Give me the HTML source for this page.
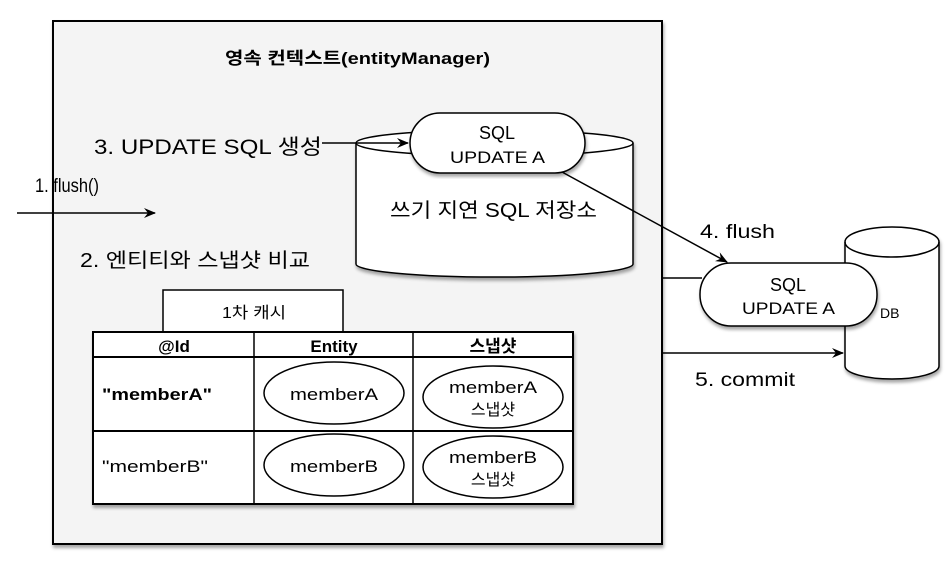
<!DOCTYPE html>
<html><head><meta charset="utf-8"><style>
body{margin:0;background:#fff;width:952px;height:572px;overflow:hidden}
text{font-family:"Liberation Sans","Noto Sans CJK KR",sans-serif;fill:#000}
</style></head><body>
<svg width="952" height="572" viewBox="0 0 952 572" xmlns="http://www.w3.org/2000/svg">
<defs>
<marker id="a" markerWidth="12" markerHeight="10" refX="11" refY="5" orient="auto" markerUnits="userSpaceOnUse"><path d="M0,0 L12,5 L0,10 L4,5 Z" fill="#000"/></marker>
<filter id="s" x="-5%" y="-5%" width="112%" height="115%"><feDropShadow dx="1" dy="3" stdDeviation="1.5" flood-opacity="0.35"/></filter>
</defs>
<rect x="53" y="21" width="609" height="523" fill="#f4f4f4" stroke="#000" stroke-width="2" filter="url(#s)"/>
<text x="225" y="64" font-size="17" font-weight="bold" textLength="265" lengthAdjust="spacingAndGlyphs">영속 컨텍스트(entityManager)</text>
<g filter="url(#s)">
<path d="M356,143 L356,264 A138,13 0 0 0 633,264 L633,143 A138,13 0 0 0 356,143 Z" fill="#fff" stroke="#000" stroke-width="1.5"/>
<path d="M356,143 A138,13 0 0 0 633,143" fill="none" stroke="#000" stroke-width="1.5"/>
</g>
<rect x="410" y="113" width="175" height="60" rx="30" fill="#fff" stroke="#000" stroke-width="1.5" filter="url(#s)"/>
<text x="497" y="139" font-size="18" text-anchor="middle">SQL</text>
<text x="450" y="163" font-size="17" textLength="95" lengthAdjust="spacingAndGlyphs">UPDATE A</text>
<text x="390" y="217" font-size="20" textLength="207" lengthAdjust="spacingAndGlyphs">쓰기 지연 SQL 저장소</text>
<text x="94" y="154" font-size="21" textLength="228" lengthAdjust="spacingAndGlyphs">3. UPDATE SQL 생성</text>
<line x1="322" y1="143" x2="408" y2="143" stroke="#000" stroke-width="1.5" marker-end="url(#a)"/>
<text x="35" y="192" font-size="19" textLength="64" lengthAdjust="spacingAndGlyphs">1. flush()</text>
<line x1="17" y1="213" x2="155" y2="213" stroke="#000" stroke-width="1.5" marker-end="url(#a)"/>
<text x="80" y="267" font-size="20" textLength="230" lengthAdjust="spacingAndGlyphs">2. 엔티티와 스냅샷 비교</text>
<rect x="163" y="290" width="180" height="42" fill="#fff" stroke="#000" stroke-width="1.5"/>
<text x="222" y="318" font-size="16" textLength="64" lengthAdjust="spacingAndGlyphs">1차 캐시</text>
<g filter="url(#s)">
<rect x="93" y="332" width="480" height="172" fill="#fff" stroke="#000" stroke-width="2"/>
</g>
<line x1="93" y1="357" x2="573" y2="357" stroke="#000" stroke-width="2"/>
<line x1="93" y1="431" x2="573" y2="431" stroke="#000" stroke-width="2"/>
<line x1="254" y1="332" x2="254" y2="504" stroke="#000" stroke-width="1.5"/>
<line x1="413" y1="332" x2="413" y2="504" stroke="#000" stroke-width="1.5"/>
<text x="174" y="352" font-size="17" font-weight="bold" text-anchor="middle">@Id</text>
<text x="334" y="352" font-size="17" font-weight="bold" text-anchor="middle">Entity</text>
<text x="493" y="352" font-size="17" font-weight="bold" text-anchor="middle">스냅샷</text>
<text x="102" y="400" font-size="17" font-weight="bold" textLength="110" lengthAdjust="spacingAndGlyphs">"memberA"</text>
<text x="102" y="472" font-size="17" textLength="106" lengthAdjust="spacingAndGlyphs">"memberB"</text>
<ellipse cx="334" cy="393" rx="70" ry="31" fill="#fff" stroke="#000" stroke-width="1.5"/>
<text x="290" y="400" font-size="17" textLength="88" lengthAdjust="spacingAndGlyphs">memberA</text>
<ellipse cx="493" cy="397" rx="70" ry="31" fill="#fff" stroke="#000" stroke-width="1.5"/>
<text x="449" y="393" font-size="17" textLength="88" lengthAdjust="spacingAndGlyphs">memberA</text>
<text x="493" y="415" font-size="16" text-anchor="middle">스냅샷</text>
<ellipse cx="334" cy="465" rx="70" ry="31" fill="#fff" stroke="#000" stroke-width="1.5"/>
<text x="290" y="472" font-size="17" textLength="88" lengthAdjust="spacingAndGlyphs">memberB</text>
<ellipse cx="493" cy="467" rx="70" ry="31" fill="#fff" stroke="#000" stroke-width="1.5"/>
<text x="449" y="463" font-size="17" textLength="88" lengthAdjust="spacingAndGlyphs">memberB</text>
<text x="493" y="485" font-size="16" text-anchor="middle">스냅샷</text>
<g filter="url(#s)">
<path d="M845,242 L845,366 A47,13 0 0 0 939,366 L939,242 A47,15 0 0 0 845,242 Z" fill="#fff" stroke="#000" stroke-width="1.5"/>
<path d="M845,242 A47,15 0 0 0 939,242" fill="none" stroke="#000" stroke-width="1.5"/>
</g>
<text x="880" y="318" font-size="14">DB</text>
<line x1="662" y1="278" x2="702" y2="278" stroke="#000" stroke-width="1.5"/>
<rect x="700" y="263" width="177" height="63" rx="31" fill="#fff" stroke="#000" stroke-width="1.5" filter="url(#s)"/>
<text x="788" y="291" font-size="18" text-anchor="middle">SQL</text>
<text x="742" y="314" font-size="17" textLength="93" lengthAdjust="spacingAndGlyphs">UPDATE A</text>
<line x1="562" y1="172" x2="727" y2="262" stroke="#000" stroke-width="1.5" marker-end="url(#a)"/>
<text x="700" y="238" font-size="19" textLength="75" lengthAdjust="spacingAndGlyphs">4. flush</text>
<line x1="662" y1="353" x2="843" y2="353" stroke="#000" stroke-width="1.5" marker-end="url(#a)"/>
<text x="695" y="386" font-size="19" textLength="100" lengthAdjust="spacingAndGlyphs">5. commit</text>
</svg>
</body></html>
